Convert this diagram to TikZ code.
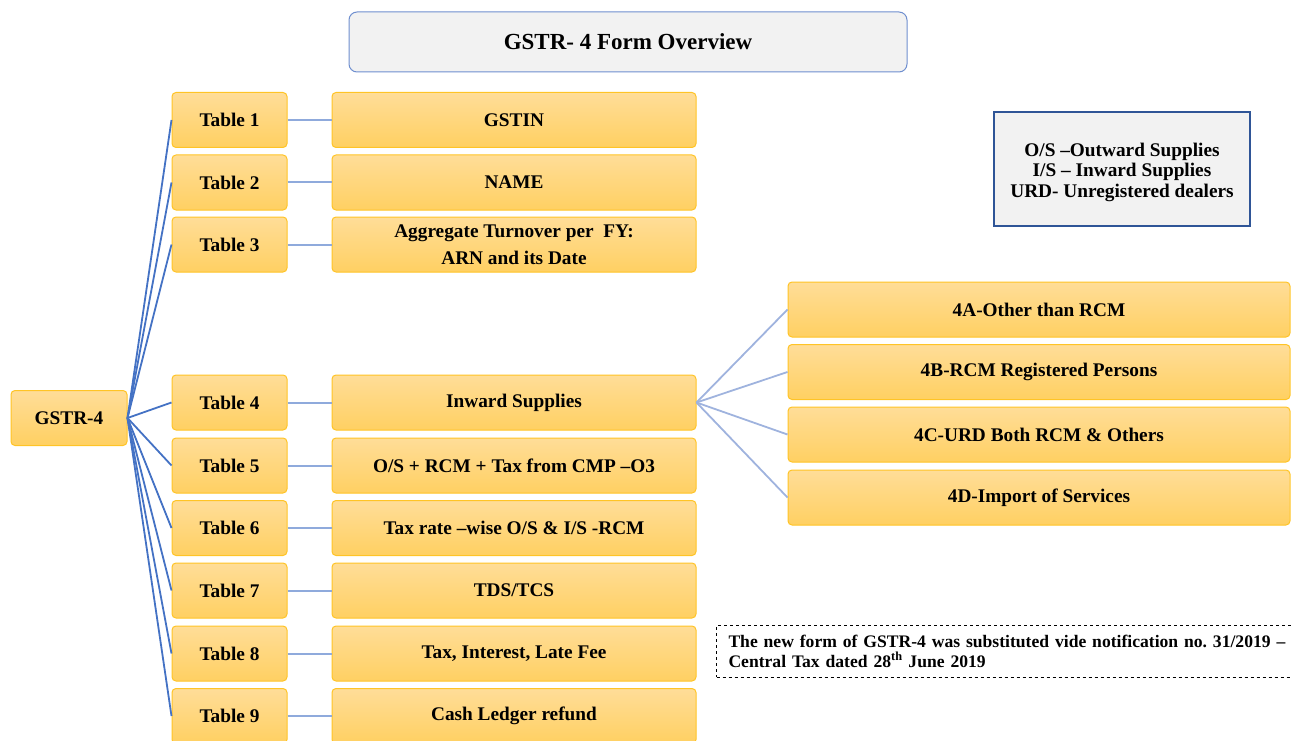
\documentclass[tikz,border=0pt]{standalone}
\usepackage{fontspec}
\setmainfont{Liberation Serif}
\frenchspacing
\definecolor{ytop}{HTML}{FFDD98}
\definecolor{ybot}{HTML}{FFD062}
\definecolor{yline}{HTML}{FFC426}
\definecolor{darkfan}{HTML}{4472C4}
\definecolor{lightfan}{HTML}{8FAADC}
\definecolor{subfan}{HTML}{9FB3DE}
\definecolor{greyfill}{HTML}{F2F2F2}
\definecolor{titleline}{HTML}{6F8FCF}
\definecolor{legline}{HTML}{2F5597}
\begin{document}
\begin{tikzpicture}[x=1pt,y=-1pt,
  ybox/.style={rectangle, rounded corners=4pt, top color=ytop, bottom color=ybot,
    draw=yline, line width=1pt, inner sep=0pt, align=center,
    font=\bfseries\fontsize{19.3}{27}\selectfont},
  tabbox/.style={ybox, minimum width=115pt, minimum height=55pt},
  wide/.style={ybox, minimum width=364pt, minimum height=55pt},
  subbox/.style={ybox, minimum width=502pt, minimum height=55pt},
  fan/.style={draw=darkfan, line width=1.8pt},
  link/.style={draw=lightfan, line width=2pt},
  sublink/.style={draw=subfan, line width=1.8pt},
]
\useasboundingbox (0,0) rectangle (1291,741);
\clip (0,0) rectangle (1291,741);

% title
\node[rectangle, rounded corners=8pt, fill=greyfill, draw=titleline, line width=1pt,
  minimum width=558pt, minimum height=60pt, font=\bfseries\fontsize{23}{27}\selectfont]
  (title) at (628,42) {GSTR- 4 Form Overview};

% legend
\node[rectangle, fill=greyfill, draw=legline, line width=1.5pt, align=center,
  minimum width=256pt, minimum height=114pt, inner sep=0pt,
  font=\bfseries\fontsize{19.3}{20.5}\selectfont]
  (legend) at (1122,169) {};
\node[align=center, inner sep=0pt, font=\bfseries\fontsize{19.3}{20.5}\selectfont]
  (legtext) at (1122,172) {O/S --Outward Supplies\\ I/S -- Inward Supplies\\ URD- Unregistered dealers};

% root
\node[ybox, minimum width=116pt, minimum height=55pt] (g) at (69,418) {GSTR-4};

% tables
\node[tabbox] (t1) at (229.5,120) {Table 1};
\node[tabbox] (t2) at (229.5,182.5) {Table 2};
\node[tabbox] (t3) at (229.5,244.5) {Table 3};
\node[tabbox] (t4) at (229.5,402.5) {Table 4};
\node[tabbox] (t5) at (229.5,465.5) {Table 5};
\node[tabbox] (t6) at (229.5,528) {Table 6};
\node[tabbox] (t7) at (229.5,590.5) {Table 7};
\node[tabbox] (t8) at (229.5,653.5) {Table 8};
\node[tabbox] (t9) at (229.5,716) {Table 9};

% right boxes
\node[wide] (r1) at (514,120) {GSTIN};
\node[wide] (r2) at (514,182.5) {NAME};
\node[wide] (r3) at (514,244.5) {Aggregate Turnover per\ \ FY:\\ARN and its Date};
\node[wide] (r4) at (514,402.5) {Inward Supplies};
\node[wide] (r5) at (514,465.5) {O/S + RCM + Tax from CMP --O3};
\node[wide] (r6) at (514,528) {Tax rate --wise O/S \& I/S -RCM};
\node[wide] (r7) at (514,590.5) {TDS/TCS};
\node[wide] (r8) at (514,653.5) {Tax, Interest, Late Fee};
\node[wide] (r9) at (514,716) {Cash Ledger refund};

% sub boxes
\node[subbox] (s1) at (1039,309.5) {4A-Other than RCM};
\node[subbox] (s2) at (1039,372) {4B-RCM Registered Persons};
\node[subbox] (s3) at (1039,434.5) {4C-URD Both RCM \& Others};
\node[subbox] (s4) at (1039,497.5) {4D-Import of Services};

% connectors
\foreach \i in {1,...,9} {
  \draw[fan] (g.east) -- (t\i.west);
  \draw[link] (t\i.east) -- (r\i.west);
}
\foreach \i in {1,...,4} {
  \draw[sublink] (r4.east) -- (s\i.west);
}

% note
\node[rectangle, draw=black, dashed, line width=1pt, anchor=west,
  minimum height=52pt, inner xsep=12pt, inner ysep=0pt, text width=600pt, align=left,
  font=\bfseries\fontsize{17.6}{20}\selectfont]
  (note) at (716,651) {The new form of GSTR-4 was substituted vide notification no. 31/2019 --\\Central Tax dated 28\textsuperscript{th} June 2019};
\end{tikzpicture}
\end{document}
